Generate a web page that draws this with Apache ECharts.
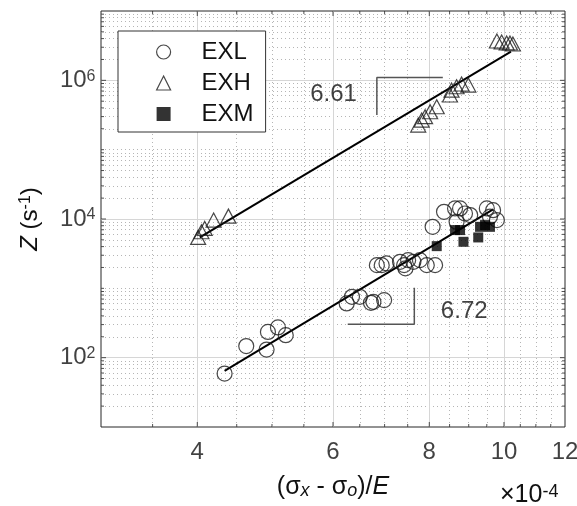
<!DOCTYPE html>
<html><head><meta charset="utf-8">
<script src="https://cdn.jsdelivr.net/npm/echarts@6/dist/echarts.min.js"></script>
<style>html,body{margin:0;padding:0;background:#fff}#c{width:577px;height:506px}</style>
</head><body><div id="c"></div>
<script>
// ---------------- data (x in units of 1e-4) ----------------
const xMin = 3, xMax = 12, yMin = 10, yMax = 1e7;

const exlX = [4.34,4.63,4.92,4.94,5.09,5.21, 6.25,6.35,6.50,6.72,6.77,6.99, 6.84,6.94,7.04,7.33,7.42,7.45,7.51,7.63,7.78,7.94,8.14, 8.08,8.36,8.64,8.77,8.90,8.68,9.04,9.50,9.68,9.79,9.59];
const exlY = [59,147,131,235,273,211, 605,754,754,618,638,676, 2160,2160,2290,2410,2160,1940,2550,2410,2550,2160,2160, 7710,12700,14200,14200,12000,9120,11400,14200,13400,9640,10800];

const exhX = [4.01,4.05,4.09,4.20,4.39, 7.74,7.82,7.90,8.02,8.18, 8.51,8.55,8.68,8.81,8.99, 9.79,9.93,10.08,10.18,10.27];
const exhY = [5430,6540,7320,9640,11000, 226000,267000,299000,352000,416000, 614000,724000,808000,885000,855000, 3690000,3570000,3450000,3450000,3340000];

const exmX = [8.18,8.64,8.77,8.86,9.26,9.31,9.45,9.59];
const exmY = [4060,6920,6920,4690,5420,7710,8170,7710];

// fitted power-law lines (end points)
const fitHX = [4.03, 10.21];
const fitHY = [5420, 2590000];
const fitLX = [4.34, 9.68];
const fitLY = [64.5, 13770];

// slope triangles
const tri1X = [8.33, 6.84, 6.84];
const tri1Y = [1100000, 1100000, 316000];
const tri2X = [7.65, 7.65, 6.27];
const tri2Y = [1016, 304, 304];

// slope annotations
const slopeText = ['6.61', '6.72'];
const slopeX = [6.01, 8.88];
const slopeY = [634000, 458];

// ticks / grid
const xTickValues = [4, 6, 8, 10, 12];
const xTickLabels = ['4', '6', '8', '10', '12'];
const xMajorGrid = [4, 6, 8, 10];
const xMinorGrid = [3.5, 4.5, 5, 5.5, 6.5, 7, 7.5, 8.5, 9, 9.5, 10.5, 11, 11.5];
const yTickValues = [1e2, 1e4, 1e6];
const yTickExps = ['2', '4', '6'];
const yMajorGrid = [1e2, 1e4, 1e6];
const yMinorMantissas = [1, 2, 3, 4, 5, 6, 7, 8, 9];
const yDecades = [1, 2, 3, 4, 5, 6];

// ---------------- build ----------------
const zip = (xs, ys) => xs.map((x, i) => [x, ys[i]]);
const TXT = '#111';
const FONT = '"Liberation Sans", Arial, Helvetica, sans-serif';
const yMinorGrid = [];
yDecades.forEach(e => yMinorMantissas.forEach(m => {
  const v = m * Math.pow(10, e);
  if (v > yMin && v < yMax && yMajorGrid.indexOf(v) < 0) yMinorGrid.push(v);
}));

const majorStyle = { type: 'solid', color: '#d6d6d6', width: 1 };
const minorStyle = { type: [1, 3], color: '#b5b5b5', width: 1 };
const gridLines = []
  .concat(xMinorGrid.map(v => ({ xAxis: v, lineStyle: minorStyle })))
  .concat(yMinorGrid.map(v => ({ yAxis: v, lineStyle: minorStyle })))
  .concat(xMajorGrid.map(v => ({ xAxis: v, lineStyle: majorStyle })))
  .concat(yMajorGrid.map(v => ({ yAxis: v, lineStyle: majorStyle })));

function tickSeries(pts, size, offset) {
  return {
    type: 'scatter', silent: true, symbol: 'rect', symbolSize: size, symbolOffset: offset,
    data: pts, itemStyle: { color: '#262626' }, z: 6, clip: false, animation: false,
    emphasis: { disabled: true }, tooltip: { show: false }
  };
}
const MJ = 5, MN = 3;
const tickSeriesList = [
  tickSeries(xMajorGrid.map(v => [v, yMin]), [1, MJ], [0, -MJ / 2]),
  tickSeries(xMinorGrid.map(v => [v, yMin]), [1, MN], [0, -MN / 2]),
  tickSeries(xMajorGrid.map(v => [v, yMax]), [1, MJ], [0, MJ / 2]),
  tickSeries(xMinorGrid.map(v => [v, yMax]), [1, MN], [0, MN / 2]),
  tickSeries(yMajorGrid.map(v => [xMin, v]), [MJ, 1], [MJ / 2, 0]),
  tickSeries(yMinorGrid.map(v => [xMin, v]), [MN, 1], [MN / 2, 0]),
  tickSeries(yMajorGrid.map(v => [xMax, v]), [MJ, 1], [-MJ / 2, 0]),
  tickSeries(yMinorGrid.map(v => [xMax, v]), [MN, 1], [-MN / 2, 0])
];

const hollow = { color: 'rgba(0,0,0,0)', borderColor: '#1a1a1a', borderWidth: 1.2 };

const option = {
  animation: false,
  backgroundColor: '#fff',
  textStyle: { fontFamily: FONT },
  grid: { left: 101, right: 12, top: 11, bottom: 79, show: true, borderColor: '#262626', borderWidth: 1,
          backgroundColor: '#fff', containLabel: false, outerBoundsMode: 'none' },
  xAxis: {
    type: 'log', logBase: 10, min: xMin, max: xMax,
    axisLine: { show: false }, axisTick: { show: false }, axisLabel: { show: false },
    splitLine: { show: false }, minorTick: { show: false }, minorSplitLine: { show: false },
    name: '{n|(σ}{sub|x}{n| - σ}{sub|o}{n|)/}{it|E}',
    nameLocation: 'middle', nameGap: 48,
    nameTextStyle: {
      color: TXT, fontFamily: FONT,
      rich: {
        n: { fontSize: 25, lineHeight: 25, padding: [0, 0, 6, 0], verticalAlign: 'top', color: TXT, fontFamily: FONT },
        it: { fontSize: 25, lineHeight: 25, padding: [0, 0, 6, 0], verticalAlign: 'top', fontStyle: 'italic', color: TXT, fontFamily: FONT },
        sub: { fontSize: 18, lineHeight: 18, verticalAlign: 'bottom', fontStyle: 'italic', color: TXT, fontFamily: FONT }
      }
    }
  },
  yAxis: {
    type: 'log', logBase: 10, min: yMin, max: yMax,
    axisLine: { show: false }, axisTick: { show: false }, axisLabel: { show: false },
    splitLine: { show: false }, minorTick: { show: false }, minorSplitLine: { show: false },
    name: '{it|Z}{n| (s}{sup|-1}{n|)}',
    nameLocation: 'middle', nameGap: 59,
    nameTextStyle: {
      color: TXT, fontFamily: FONT,
      rich: {
        n: { fontSize: 24, lineHeight: 24, padding: [7, 0, 0, 0], verticalAlign: 'bottom', color: TXT, fontFamily: FONT },
        it: { fontSize: 24, lineHeight: 24, padding: [7, 0, 0, 0], verticalAlign: 'bottom', fontStyle: 'italic', color: TXT, fontFamily: FONT },
        sup: { fontSize: 16, lineHeight: 16, verticalAlign: 'top', color: TXT, fontFamily: FONT }
      }
    }
  },
  legend: {
    orient: 'vertical', left: 118, top: 31, padding: [9, 12, 6, 38], itemGap: 7,
    itemWidth: 14, itemHeight: 14, backgroundColor: '#fff', borderColor: '#333', borderWidth: 1, borderRadius: 0,
    selectedMode: false, z: 10,
    textStyle: { fontSize: 24, lineHeight: 24, color: TXT, fontFamily: FONT, padding: [0, 0, 0, 26] },
    data: [
      { name: 'EXL', icon: 'circle', itemStyle: hollow },
      { name: 'EXH', icon: 'triangle', itemStyle: hollow },
      { name: 'EXM', icon: 'rect', itemStyle: { color: '#000', borderWidth: 0 } }
    ]
  },
  graphic: [{
    type: 'text', left: 500, top: 477, z: 10,
    style: {
      text: '{n|×10}{s|-4}',
      rich: {
        n: { fontSize: 25, lineHeight: 25, padding: [6, 0, 0, 0], verticalAlign: 'bottom', fill: TXT, fontFamily: FONT },
        s: { fontSize: 18, lineHeight: 18, verticalAlign: 'top', fill: TXT, fontFamily: FONT }
      }
    }
  }],
  series: [
    { type: 'line', data: [], silent: true, z: 1,
      markLine: { silent: true, z: 1, symbol: ['none', 'none'], label: { show: false }, animation: false,
                  emphasis: { disabled: true }, data: gridLines } },
    ...tickSeriesList,
    { type: 'line', data: zip(fitHX, fitHY), symbol: 'none', silent: true, z: 3,
      lineStyle: { color: '#000', width: 2 } },
    { type: 'line', data: zip(fitLX, fitLY), symbol: 'none', silent: true, z: 3,
      lineStyle: { color: '#000', width: 2 } },
    { type: 'line', data: zip(tri1X, tri1Y), symbol: 'none', silent: true, z: 3,
      lineStyle: { color: '#555', width: 1.5 } },
    { type: 'line', data: zip(tri2X, tri2Y), symbol: 'none', silent: true, z: 3,
      lineStyle: { color: '#555', width: 1.5 } },
    { name: 'EXL', type: 'scatter', data: zip(exlX, exlY), symbol: 'circle', symbolSize: 15,
      itemStyle: hollow, z: 4, emphasis: { disabled: true } },
    { name: 'EXH', type: 'scatter', data: zip(exhX, exhY), symbol: 'triangle', symbolSize: [15, 14],
      itemStyle: hollow, z: 4, emphasis: { disabled: true } },
    { name: 'EXM', type: 'scatter', data: zip(exmX, exmY), symbol: 'rect', symbolSize: 10,
      itemStyle: { color: '#000' }, z: 4, emphasis: { disabled: true } },
    { type: 'scatter', silent: true, z: 5, clip: false, symbol: 'circle', symbolSize: 1,
      itemStyle: { color: 'rgba(0,0,0,0)' },
      data: slopeText.map((t, i) => ({ value: [slopeX[i], slopeY[i]], label: { formatter: t } })),
      label: { show: true, position: 'inside', fontSize: 24, color: TXT, fontFamily: FONT } },
    { type: 'scatter', silent: true, z: 5, clip: false, symbol: 'circle', symbolSize: 1,
      itemStyle: { color: 'rgba(0,0,0,0)' },
      data: xTickValues.map((v, i) => ({ value: [v, yMin], label: { formatter: xTickLabels[i] } })),
      label: { show: true, position: 'bottom', distance: 13, fontSize: 24, color: TXT, fontFamily: FONT } },
    { type: 'scatter', silent: true, z: 5, clip: false, symbol: 'circle', symbolSize: 1,
      itemStyle: { color: 'rgba(0,0,0,0)' },
      data: yTickValues.map((v, i) => ({ value: [xMin, v], label: { formatter: '{b|10}{s|' + yTickExps[i] + '}' } })),
      label: { show: true, position: 'left', distance: 5, color: TXT, fontFamily: FONT,
               rich: {
                 b: { fontSize: 24, lineHeight: 24, verticalAlign: 'bottom', color: TXT, fontFamily: FONT },
                 s: { fontSize: 16, lineHeight: 16, padding: [0, 0, 12, 0], verticalAlign: 'top', color: TXT, fontFamily: FONT }
               } } }
  ]
};

const chart = echarts.init(document.getElementById('c'), null, { renderer: 'canvas' });
chart.setOption(option);
</script>
</body></html>
